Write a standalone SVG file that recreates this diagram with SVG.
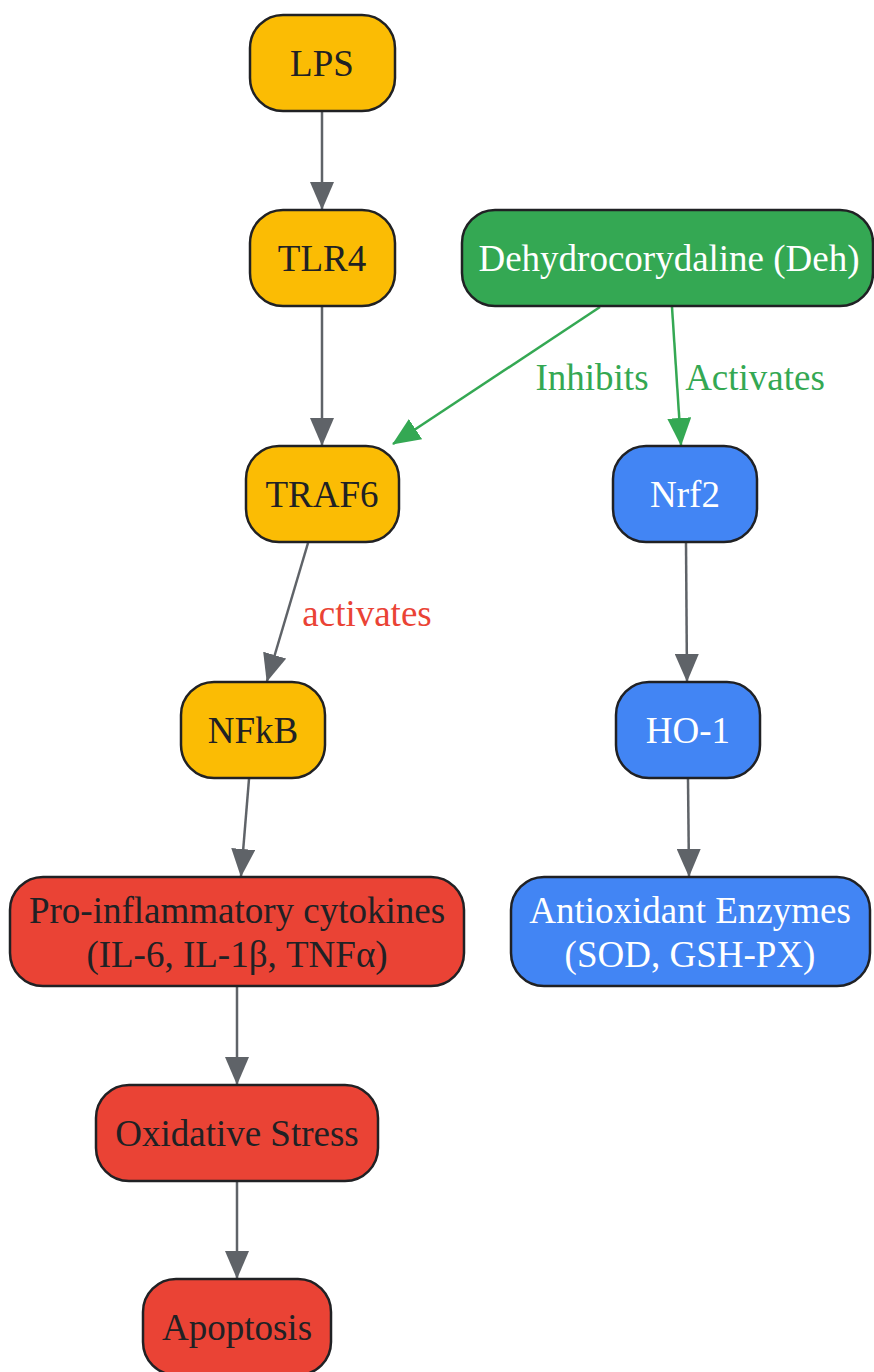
<svg xmlns="http://www.w3.org/2000/svg" width="874" height="1372" viewBox="0 0 874 1372">
<style>
text{font-family:"Liberation Serif","Times New Roman",serif;font-size:37px;text-anchor:middle}
.n rect{stroke:#202124;stroke-width:2.5}
.y rect{fill:#fbbc04}.r rect{fill:#ea4335}.g rect{fill:#34a853}.b rect{fill:#4285f4}
.y text,.r text{fill:#202124}.g text,.b text{fill:#ffffff}
.e{fill:none;stroke-width:2.5}
.gray{stroke:#5f6368}.grn{stroke:#34a853}
.lg{fill:#34a853}.lr{fill:#ea4335}
</style>
<defs>
<marker id="ag" markerUnits="userSpaceOnUse" viewBox="0 0 28 24" markerWidth="28" markerHeight="24" refX="27" refY="12" orient="auto"><path d="M0,0 L28,12 L0,24 z" fill="#5f6368"/></marker>
<marker id="agr" markerUnits="userSpaceOnUse" viewBox="0 0 28 24" markerWidth="28" markerHeight="24" refX="27" refY="12" orient="auto"><path d="M0,0 L28,12 L0,24 z" fill="#34a853"/></marker>
</defs>
<g id="connectors">
<line class="e gray" x1="322" y1="111" x2="322" y2="209" marker-end="url(#ag)"/>
<line class="e gray" x1="322" y1="306" x2="322" y2="445" marker-end="url(#ag)"/>
<line class="e grn" x1="600" y1="307" x2="393" y2="444" marker-end="url(#agr)"/>
<line class="e grn" x1="672" y1="307" x2="681" y2="445" marker-end="url(#agr)"/>
<line class="e gray" x1="308" y1="543" x2="267" y2="681" marker-end="url(#ag)"/>
<line class="e gray" x1="686" y1="543" x2="687" y2="681" marker-end="url(#ag)"/>
<line class="e gray" x1="249" y1="779" x2="241" y2="876" marker-end="url(#ag)"/>
<line class="e gray" x1="688" y1="779" x2="689" y2="876" marker-end="url(#ag)"/>
<line class="e gray" x1="237" y1="987" x2="237" y2="1084" marker-end="url(#ag)"/>
<line class="e gray" x1="237" y1="1182" x2="237" y2="1278" marker-end="url(#ag)"/>
<text class="lg" x="592" y="390">Inhibits</text>
<text class="lg" x="755" y="390">Activates</text>
<text class="lr" x="367" y="626">activates</text>
</g>
<g id="LPS" class="n y"><rect x="250" y="15" width="145" height="96" rx="33"/><text x="322" y="76">LPS</text></g>
<g id="TLR4" class="n y"><rect x="250" y="210" width="145" height="96" rx="33"/><text x="322" y="271">TLR4</text></g>
<g id="Deh" class="n g"><rect x="462" y="210" width="411" height="96" rx="33"/><text x="669" y="271">Dehydrocorydaline (Deh)</text></g>
<g id="TRAF6" class="n y"><rect x="246" y="446" width="153" height="96" rx="33"/><text x="322" y="507">TRAF6</text></g>
<g id="Nrf2" class="n b"><rect x="613" y="446" width="144" height="96" rx="33"/><text x="685" y="507">Nrf2</text></g>
<g id="NFkB" class="n y"><rect x="181" y="682" width="144" height="96" rx="33"/><text x="253" y="743">NFkB</text></g>
<g id="HO1" class="n b"><rect x="616" y="682" width="144" height="96" rx="33"/><text x="688" y="743">HO-1</text></g>
<g id="Cytokines" class="n r"><rect x="10" y="877" width="454" height="109" rx="33"/><text x="237" y="923">Pro-inflammatory cytokines</text><text x="237" y="967">(IL-6, IL-1β, TNFα)</text></g>
<g id="Antioxidant" class="n b"><rect x="511" y="877" width="359" height="109" rx="33"/><text x="690" y="923">Antioxidant Enzymes</text><text x="690" y="967">(SOD, GSH-PX)</text></g>
<g id="OxStress" class="n r"><rect x="96" y="1085" width="282" height="96" rx="33"/><text x="237" y="1146">Oxidative Stress</text></g>
<g id="Apoptosis" class="n r"><rect x="143" y="1279" width="188" height="96" rx="33"/><text x="237" y="1340">Apoptosis</text></g>
</svg>
